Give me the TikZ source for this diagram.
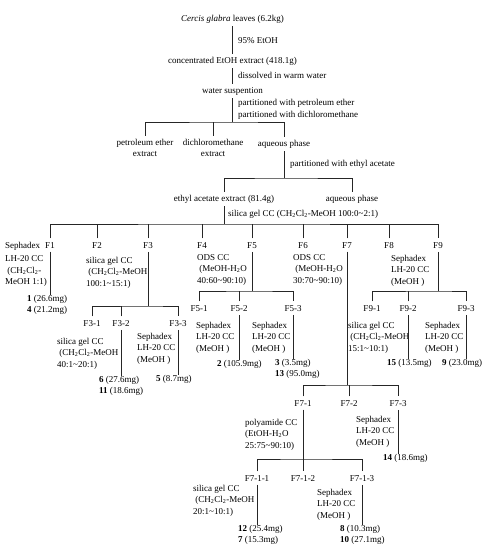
\documentclass[tikz,border=0pt]{standalone}
\usepackage{fontspec}
\setmainfont{Liberation Serif}
\newcommand{\fs}{\fontsize{9}{11.5}\selectfont}
\newcommand{\chcl}{CH\textsubscript{2}Cl\textsubscript{2}}
\newcommand{\meh}{MeOH-H\textsubscript{2}O}
\tikzset{
  x=1pt, y=-1pt,
  % --- text blocks (multi-line: base = baseline of the last line) ----------
  stage/.style = {font=\fs, inner xsep=1pt, inner ysep=3pt, anchor=base,
                  align=center},
  cond/.style  = {font=\fs, inner sep=0pt, anchor=base west, align=left},
  frac/.style  = {font=\fs, inner xsep=1pt, inner ysep=3.5pt, anchor=base},
  yield/.style = {font=\fs, inner sep=0pt, anchor=base west, align=left},
  % --- tree lines ----------------------------------------------------------
  tree/.style  = {draw=black!85, line width=0.7pt},
}

\begin{document}
\begin{tikzpicture}
\useasboundingbox (0,0) rectangle (488,550);

% ============================ extraction ==================================
\node[stage] (leaves)  at (232.5,21) {\textit{Cercis glabra} leaves (6.2kg)};
\node[cond]  (step1)   at (238,43)   {95\% EtOH};
\node[stage] (extract) at (232.5,63) {concentrated EtOH extract (418.1g)};
\node[cond]  (step2)   at (238,78)   {dissolved in warm water};
\node[stage] (water)   at (232.5,93) {water suspention};
\node[cond]  (step3)   at (238,117.5)
     {partitioned with petroleum ether\\[1pt]partitioned with dichloromethane};

\draw[tree] (leaves) -- (extract);
\draw[tree] (extract) -- (water);

\coordinate (j1) at (232.5,122);
\node[stage] (pet) at (145,156.5) {petroleum ether\\extract};
\node[stage] (dcm) at (213,156.5) {dichloromethane\\extract};
\node[stage] (aq1) at (284,146) {aqueous phase};
\node[cond]  (step4) at (290,166) {partitioned with ethyl acetate};

\draw[tree] (water) -- (j1);
\draw[tree] (pet.north) |- (j1) -| (aq1.north);
\draw[tree] (dcm.north) -- (dcm.north |- j1);

\coordinate (j2) at (284,178);
\node[stage] (ea)  at (224,201) {ethyl acetate extract (81.4g)};
\node[stage] (aq2) at (352,201) {aqueous phase};
\node[cond]  (step5) at (228,216)
     {silica gel CC (\chcl-MeOH 100:0\textasciitilde2:1)};

\draw[tree] (aq1) -- (j2);
\draw[tree] (ea.north) |- (j2) -| (aq2.north);

% ============================ fractions F1--F9 ============================
\coordinate (j3) at (224,224);
\node[frac] (f1) at (50,248)  {F1};
\node[frac] (f2) at (97,248)  {F2};
\node[frac] (f3) at (148,248) {F3};
\node[frac] (f4) at (202,248) {F4};
\node[frac] (f5) at (252,248) {F5};
\node[frac] (f6) at (303,248) {F6};
\node[frac] (f7) at (347,248) {F7};
\node[frac] (f8) at (389,248) {F8};
\node[frac] (f9) at (438,248) {F9};

\draw[tree] (ea) -- (j3);
\draw[tree] (f1.north) |- (j3) -| (f9.north);
\foreach \f in {f2,f3,f4,f5,f6,f7,f8}
  \draw[tree] (\f.north) -- (\f.north |- j3);

% --- F1 ---
\node[cond]  (sep1) at (5,284.5)
     {Sephadex\\[2pt]LH-20 CC\\ \ (\chcl-\\MeOH 1:1)};
\node[yield] (c14)  at (27,312.5) {\textbf{1} (26.6mg)\\\textbf{4} (21.2mg)};
\draw[tree] (f1) -- (f1.south |- c14.north);

% --- F2 ---
\node[cond] (sg2) at (86,286)
     {silica gel CC\\ \ (\chcl-MeOH\\100:1\textasciitilde15:1)};

% --- F3 ---
\coordinate (j31) at (148,306);
\node[frac] (f31) at (92,326)  {F3-1};
\node[frac] (f32) at (121,326) {F3-2};
\node[frac] (f33) at (178,326) {F3-3};
\draw[tree] (f3) -- (j31);
\draw[tree] (f31.north) |- (j31) -| (f33.north);
\draw[tree] (f32.north) -- (f32.north |- j31);

\node[cond]  (sg31) at (57,367)
     {silica gel CC\\ \ (\chcl-MeOH\\40:1\textasciitilde20:1)};
\node[yield] (c611) at (99,393.5) {\textbf{6} (27.6mg)\\\textbf{11} (18.6mg)};
\node[cond]  (sp33) at (137,362) {Sephadex\\LH-20 CC\\(MeOH )};
\node[yield] (c5)   at (156,381) {\textbf{5} (8.7mg)};
\draw[tree] (f32) -- (f32.south |- c611.north);
\draw[tree] (f33) -- (f33.south |- c5.north);

% --- F4 ---
\node[cond] (ods4) at (197,283)
     {ODS CC\\ \ (\meh\\40:60\textasciitilde90:10)};

% --- F5 ---
\coordinate (j51) at (252,291);
\node[frac] (f51) at (199,311) {F5-1};
\node[frac] (f52) at (239,311) {F5-2};
\node[frac] (f53) at (293,311) {F5-3};
\draw[tree] (f5) -- (j51);
\draw[tree] (f51.north) |- (j51) -| (f53.north);
\draw[tree] (f52.north) -- (f52.north |- j51);

\node[cond]  (sp51) at (196,351) {Sephadex\\LH-20 CC\\(MeOH )};
\node[yield] (c2)   at (217,366) {\textbf{2} (105.9mg)};
\node[cond]  (sp53) at (252,351) {Sephadex\\LH-20 CC\\(MeOH )};
\node[yield] (c313) at (275,376.5) {\textbf{3} (3.5mg)\\\textbf{13} (95.0mg)};
\draw[tree] (f52) -- (f52.south |- c2.north);
\draw[tree] (f53) -- (f53.south |- c313.north);

% --- F6 ---
\node[cond] (ods6) at (293,283)
     {ODS CC\\ \ (\meh\\30:70\textasciitilde90:10)};

% --- F7 ---
\coordinate (j71) at (347,385);
\node[frac] (f71) at (303,406) {F7-1};
\node[frac] (f72) at (349,406) {F7-2};
\node[frac] (f73) at (398,406) {F7-3};
\draw[tree] (f7) -- (j71);
\draw[tree] (f71.north) |- (j71) -| (f73.north);
\draw[tree] (f72.north) -- (f72.north |- j71);

\node[cond]  (pa71) at (245,448)
     {polyamide CC\\(EtOH-H\textsubscript{2}O\\25:75\textasciitilde90:10)};
\node[cond]  (sp73) at (356,445) {Sephadex\\LH-20 CC\\(MeOH )};
\node[yield] (c14b) at (383,460) {\textbf{14} (18.6mg)};
\draw[tree] (f73) -- (f73.south |- c14b.north);

\coordinate (j711) at (303,459);
\node[frac] (f711) at (257,481) {F7-1-1};
\node[frac] (f712) at (303,481) {F7-1-2};
\node[frac] (f713) at (362,481) {F7-1-3};
\draw[tree] (f71) -- (f712);
\draw[tree] (f711.north) |- (j711) -| (f713.north);

\node[cond]  (sg711) at (193,514)
     {silica gel CC\\ \ (\chcl-MeOH\\20:1\textasciitilde10:1)};
\node[yield] (c127)  at (238,542.5) {\textbf{12} (25.4mg)\\\textbf{7} (15.3mg)};
\node[cond]  (sp713) at (317,518) {Sephadex\\LH-20 CC\\(MeOH )};
\node[yield] (c810)  at (340,542.5) {\textbf{8} (10.3mg)\\\textbf{10} (27.1mg)};
\draw[tree] (f711) -- (f711.south |- c127.north);
\draw[tree] (f713) -- (f713.south |- c810.north);

% --- F8 ---
\node[cond] (sp8) at (391,284) {Sephadex\\LH-20 CC\\(MeOH )};

% --- F9 ---
\coordinate (j91) at (438,291);
\node[frac] (f91) at (372,311) {F9-1};
\node[frac] (f92) at (408,311) {F9-2};
\node[frac] (f93) at (466,311) {F9-3};
\draw[tree] (f9) -- (j91);
\draw[tree] (f91.north) |- (j91) -| (f93.north);
\draw[tree] (f92.north) -- (f92.north |- j91);

\node[cond]  (sg91) at (348,351)
     {silica gel CC\\ \ (\chcl-MeOH\\15:1\textasciitilde10:1)};
\node[yield] (c15)  at (387,365) {\textbf{15} (13.5mg)};
\node[cond]  (sp93) at (425,351) {Sephadex\\LH-20 CC\\(MeOH )};
\node[yield] (c9)   at (442,365) {\textbf{9} (23.0mg)};
\draw[tree] (f92) -- (f92.south |- c15.north);
\draw[tree] (f93) -- (f93.south |- c9.north);

\end{tikzpicture}
\end{document}
